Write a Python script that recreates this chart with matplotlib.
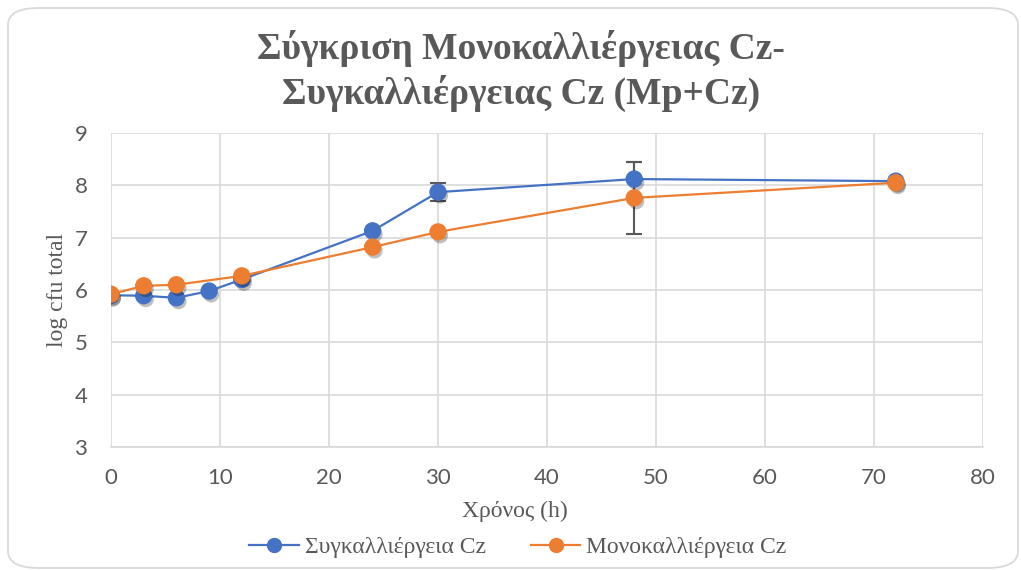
import matplotlib
matplotlib.use("Agg")
import matplotlib.pyplot as plt
import matplotlib.patheffects as pe
from matplotlib.patches import FancyBboxPatch

# Data
time_co = [0, 3, 6, 9, 12, 24, 30, 48, 72]
co_cz = [5.90, 5.89, 5.85, 5.98, 6.20, 7.13, 7.87, 8.12, 8.08]
co_err = [0, 0, 0, 0, 0, 0, 0.17, 0.33, 0]

time_mono = [0, 3, 6, 12, 24, 30, 48, 72]
mono_cz = [5.92, 6.08, 6.10, 6.27, 6.82, 7.11, 7.76, 8.05]
mono_err = [0, 0, 0, 0, 0, 0, 0.69, 0]

title = "Σύγκριση Μονοκαλλιέργειας Cz-\nΣυγκαλλιέργειας Cz (Mp+Cz)"
xlabel = "Χρόνος (h)"
ylabel = "log cfu total"
names = ["Συγκαλλιέργεια Cz", "Μονοκαλλιέργεια Cz"]

blue = "#4472C4"
orange = "#ED7D31"
serif = "Liberation Serif"
sans = "Lato"

fig = plt.figure(figsize=(10.21, 5.70), dpi=100)
W, H = 1021, 570

# rounded chart border
border = FancyBboxPatch((8 / W, 2 / H), 1010 / W, 560 / H,
                        boxstyle="round,pad=0,rounding_size=0.03",
                        transform=fig.transFigure, fill=False,
                        edgecolor="#d9d9d9", linewidth=1.3)
fig.patches.append(border)

ax = fig.add_axes([111 / W, 1 - 447 / H, 872 / W, 314 / H])

shadow = [pe.SimplePatchShadow(offset=(1.5, -2.5), shadow_rgbFace="k", alpha=0.25),
          pe.Normal()]

for t, v, e, c, n in [(time_co, co_cz, co_err, blue, names[0]),
                      (time_mono, mono_cz, mono_err, orange, names[1])]:
    ax.errorbar(t, v, yerr=e, fmt="none", ecolor="#595959", elinewidth=1.5,
                capsize=6, capthick=1.5, zorder=2)
    ax.plot(t, v, color=c, lw=1.6, zorder=3)
    ax.plot(t, v, linestyle="none", marker="o", ms=11.5, color=c,
            path_effects=shadow, zorder=4)
    ax.plot([], [], color=c, lw=1.6, marker="o", ms=10, label=n)

ax.set_xlim(0, 80)
ax.set_ylim(3, 9)
ax.set_xticks(range(0, 81, 10))
ax.set_yticks(range(3, 10))
ax.grid(True, color="#d9d9d9", lw=1.2)
ax.set_axisbelow(True)
for s in ["top", "right", "left"]:
    ax.spines[s].set_visible(False)
ax.spines["bottom"].set_color("#d9d9d9")
ax.spines["bottom"].set_linewidth(1.2)
ax.tick_params(axis="x", pad=15)
ax.tick_params(axis="y", pad=17)
ax.tick_params(length=0, labelsize=16, labelcolor="#595959")
for lab in ax.get_xticklabels() + ax.get_yticklabels():
    lab.set_fontfamily(sans)

fig.text(0.51, 1 - 71 / H, title, ha="center", va="center", fontsize=27,
         fontweight="bold", family=serif, color="#595959", linespacing=1.25)
fig.text(515 / W, 1 - 511 / H, xlabel, ha="center", va="center", fontsize=17,
         family=serif, color="#595959")
fig.text(57 / W, 1 - 290 / H, ylabel, ha="center", va="center", fontsize=17,
         family=serif, color="#595959", rotation=90)

fig.legend(loc="center", bbox_to_anchor=(518 / W, 1 - 547 / H), ncol=2,
           frameon=False, prop={"family": serif, "size": 17},
           handlelength=2.1, handletextpad=0.25, columnspacing=1.9,
           labelcolor="#595959")

fig.savefig("out.png", dpi=100)
